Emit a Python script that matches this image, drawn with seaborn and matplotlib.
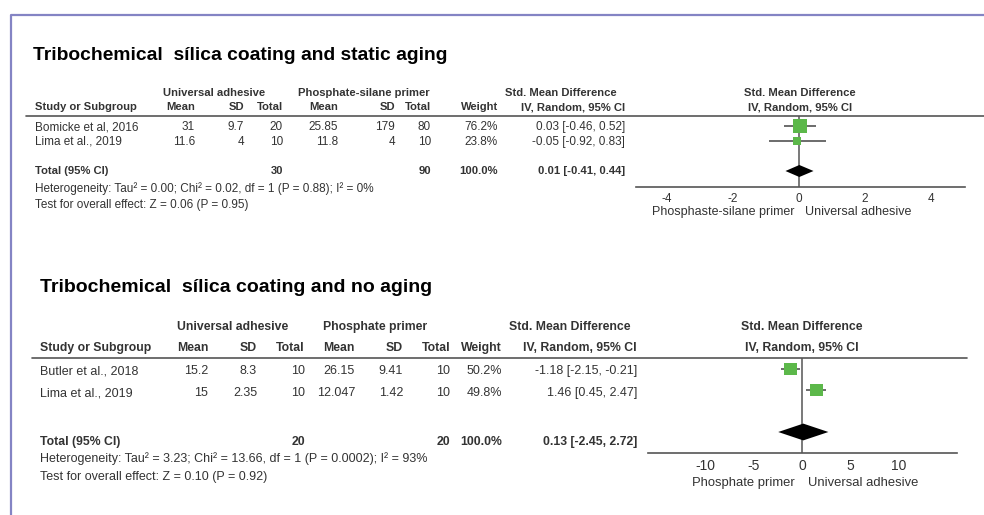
import matplotlib
matplotlib.use("Agg")
import matplotlib.pyplot as plt
import seaborn as sns
import pandas as pd

# ---- panel 1: static aging ----
p1_title = "Tribochemical  sílica coating and static aging"
p1_grp_a = "Universal adhesive"
p1_grp_b = "Phosphate-silane primer"
p1_studies = ["Bomicke et al, 2016", "Lima et al., 2019"]
p1_mean_a = ["31", "11.6"]
p1_sd_a = ["9.7", "4"]
p1_n_a = ["20", "10"]
p1_mean_b = ["25.85", "11.8"]
p1_sd_b = ["179", "4"]
p1_n_b = ["80", "10"]
p1_weight = [76.2, 23.8]
p1_smd = [0.03, -0.05]
p1_lo = [-0.46, -0.92]
p1_hi = [0.52, 0.83]
p1_total = ["30", "90"]
p1_tot_smd, p1_tot_lo, p1_tot_hi = 0.01, -0.41, 0.44
p1_het = "Heterogeneity: Tau² = 0.00; Chi² = 0.02, df = 1 (P = 0.88); I² = 0%"
p1_test = "Test for overall effect: Z = 0.06 (P = 0.95)"
p1_ticks = [-4, -2, 0, 2, 4]
p1_left_lab = "Phosphaste-silane primer"
p1_right_lab = "Universal adhesive"

# ---- panel 2: no aging ----
p2_title = "Tribochemical  sílica coating and no aging"
p2_grp_a = "Universal adhesive"
p2_grp_b = "Phosphate primer"
p2_studies = ["Butler et al., 2018", "Lima et al., 2019"]
p2_mean_a = ["15.2", "15"]
p2_sd_a = ["8.3", "2.35"]
p2_n_a = ["10", "10"]
p2_mean_b = ["26.15", "12.047"]
p2_sd_b = ["9.41", "1.42"]
p2_n_b = ["10", "10"]
p2_weight = [50.2, 49.8]
p2_smd = [-1.18, 1.46]
p2_lo = [-2.15, 0.45]
p2_hi = [-0.21, 2.47]
p2_total = ["20", "20"]
p2_tot_smd, p2_tot_lo, p2_tot_hi = 0.13, -2.45, 2.72
p2_het = "Heterogeneity: Tau² = 3.23; Chi² = 13.66, df = 1 (P = 0.0002); I² = 93%"
p2_test = "Test for overall effect: Z = 0.10 (P = 0.92)"
p2_ticks = [-10, -5, 0, 5, 10]
p2_left_lab = "Phosphate primer"
p2_right_lab = "Universal adhesive"

sns.set_theme(style="white")
plt.rcParams["font.family"] = ["Liberation Sans", "DejaVu Sans"]
plt.rcParams["axes.unicode_minus"] = False

W, H = 984, 515
fig = plt.figure(figsize=(W / 100, H / 100), dpi=100)
bg = fig.add_axes([0, 0, 1, 1])
bg.set_xlim(0, W)
bg.set_ylim(H, 0)
bg.axis("off")

# frame
bg.plot([11, 11, W], [H, 15, 15], color="#8484c4", lw=1.6)

GREEN = "#5cb84a"
TXT = "#333333"


def fmt_ci(e, l, h):
    return f"{e:.2f} [{l:.2f}, {h:.2f}]"


def panel(cfg):
    kw = dict(fontsize=cfg["fs"], color=TXT, va="center")
    bold = dict(kw, fontsize=cfg["bfs"], fontweight="bold")
    bg.text(cfg["x0"], cfg["ty"], cfg["title"], fontsize=cfg["tfs"], fontweight="bold",
            color="black", va="center")
    gy, hy = cfg["gy"], cfg["hy"]
    c = cfg["cols"]
    bg.text(c["grp_a"], gy, cfg["grp_a"], ha="left", **bold)
    bg.text(c["grp_b"], gy, cfg["grp_b"], ha="left", **bold)
    bg.text(c["smd_c"], gy, "Std. Mean Difference", ha="center", **bold)
    bg.text(c["plot_c"], gy, "Std. Mean Difference", ha="center", **bold)
    heads = [("Study or Subgroup", c["study"], "left"), ("Mean", c["ma"], "right"),
             ("SD", c["sa"], "right"), ("Total", c["na"], "right"),
             ("Mean", c["mb"], "right"), ("SD", c["sb"], "right"),
             ("Total", c["nb"], "right"), ("Weight", c["w"], "right"),
             ("IV, Random, 95% CI", c["ci"], "right"),
             ("IV, Random, 95% CI", c["plot_c"], "center")]
    for t, x, ha in heads:
        bg.text(x, hy, t, ha=ha, **bold)
    bg.plot([cfg["line_x0"], cfg["line_x1"]], [cfg["line_y"]] * 2, color="#555555", lw=1.2)

    rows = cfg["row_y"]
    for i, s in enumerate(cfg["studies"]):
        y = rows[i]
        bg.text(c["study"], y, s, ha="left", **kw)
        for key, arr in [("ma", cfg["mean_a"]), ("sa", cfg["sd_a"]), ("na", cfg["n_a"]),
                         ("mb", cfg["mean_b"]), ("sb", cfg["sd_b"]), ("nb", cfg["n_b"])]:
            bg.text(c[key], y, arr[i], ha="right", **kw)
        bg.text(c["w"], y, f"{cfg['weight'][i]:.1f}%", ha="right", **kw)
        bg.text(c["ci"], y, fmt_ci(cfg["smd"][i], cfg["lo"][i], cfg["hi"][i]), ha="right", **kw)
    ty = cfg["tot_y"]
    bg.text(c["study"], ty, "Total (95% CI)", ha="left", **bold)
    bg.text(c["na"], ty, cfg["total"][0], ha="right", **bold)
    bg.text(c["nb"], ty, cfg["total"][1], ha="right", **bold)
    bg.text(c["w"], ty, f"{sum(cfg['weight']):.1f}%", ha="right", **bold)
    bg.text(c["ci"], ty, fmt_ci(cfg["tot"][0], cfg["tot"][1], cfg["tot"][2]), ha="right", **bold)
    bg.text(c["study"], cfg["het_y"], cfg["het"], ha="left", **kw)
    bg.text(c["study"], cfg["test_y"], cfg["test"], ha="left", **kw)

    # forest axes, placed in pixel layout; marks drawn in data units
    px0, px1, py0, py1 = cfg["ax_box"]
    ax = fig.add_axes([px0 / W, 1 - py1 / H, (px1 - px0) / W, (py1 - py0) / H])
    ax.patch.set_alpha(0)
    n = len(cfg["studies"])
    df = pd.DataFrame({"smd": cfg["smd"], "row": list(range(n)), "weight": cfg["weight"]})
    ax.hlines(df["row"], cfg["lo"], cfg["hi"], color="#444444", lw=1.1, zorder=2)
    sns.scatterplot(data=df, x="smd", y="row", size="weight", sizes=(0, cfg["smax"]),
                    size_norm=(0, 100), marker="s", color=GREEN, linewidth=0,
                    legend=False, ax=ax, zorder=3)
    tr = n + 1
    e, l, h = cfg["tot"]
    ax.fill([l, e, h, e], [tr, tr - 0.4, tr, tr + 0.4], color="black", lw=0, zorder=3)
    ax.axvline(0, color="#555555", lw=1.1, zorder=1)
    ax.set_xlim(cfg["xlim"])
    ax.set_ylim(cfg["ylim"])
    ax.set_yticks([])
    ax.set_xticks(cfg["ticks"])
    ax.set_xlabel("")
    ax.set_ylabel("")
    for sp in ["top", "left", "right"]:
        ax.spines[sp].set_visible(False)
    ax.spines["bottom"].set_color("#555555")
    ax.spines["bottom"].set_linewidth(1.2)
    ax.tick_params(axis="x", direction="inout", length=cfg["tlen"], width=1.1,
                   color="#555555", pad=0, labelsize=cfg["tick_fs"], labelcolor=TXT)
    lab_kw = dict(kw, fontsize=cfg["lab_fs"])
    bg.text(cfg["lab_l"], cfg["lab_y"], cfg["left_lab"], ha="right", **lab_kw)
    bg.text(cfg["lab_r"], cfg["lab_y"], cfg["right_lab"], ha="left", **lab_kw)


panel(dict(
    fs=8.5, bfs=8.1, tfs=13.9, x0=33, ty=55,
    title=p1_title, grp_a=p1_grp_a, grp_b=p1_grp_b, gy=93, hy=107,
    cols=dict(study=35, grp_a=163, grp_b=298, ma=195, sa=244, na=283, mb=338, sb=395,
              nb=431, w=498, ci=625, smd_c=561, plot_c=800),
    line_x0=26, line_x1=W, line_y=116,
    studies=p1_studies, mean_a=p1_mean_a, sd_a=p1_sd_a, n_a=p1_n_a,
    mean_b=p1_mean_b, sd_b=p1_sd_b, n_b=p1_n_b, weight=p1_weight,
    smd=p1_smd, lo=p1_lo, hi=p1_hi, total=p1_total,
    tot=(p1_tot_smd, p1_tot_lo, p1_tot_hi),
    row_y=[127, 142], tot_y=171, het_y=189, test_y=205, het=p1_het, test=p1_test,
    ax_box=(636, 965, 116, 187), xlim=((636 - 799) / 33, (965 - 799) / 33),
    ylim=((187 - 126) / 15, (116 - 126) / 15), ticks=p1_ticks, smax=130, tlen=8,
    tick_fs=8.5, lab_fs=9, left_lab=p1_left_lab, right_lab=p1_right_lab,
    lab_l=795, lab_r=805, lab_y=212,
))

panel(dict(
    fs=9.0, bfs=8.8, tfs=14, x0=40, ty=288,
    title=p2_title, grp_a=p2_grp_a, grp_b=p2_grp_b, gy=327, hy=348,
    cols=dict(study=40, grp_a=177, grp_b=323, ma=208, sa=257, na=305, mb=355, sb=403,
              nb=450, w=502, ci=637, smd_c=570, plot_c=802),
    line_x0=32, line_x1=967, line_y=358,
    studies=p2_studies, mean_a=p2_mean_a, sd_a=p2_sd_a, n_a=p2_n_a,
    mean_b=p2_mean_b, sd_b=p2_sd_b, n_b=p2_n_b, weight=p2_weight,
    smd=p2_smd, lo=p2_lo, hi=p2_hi, total=p2_total,
    tot=(p2_tot_smd, p2_tot_lo, p2_tot_hi),
    row_y=[371, 393], tot_y=442, het_y=459, test_y=477, het=p2_het, test=p2_test,
    ax_box=(648, 957, 358, 453), xlim=((648 - 802) / 9.7, (957 - 802) / 9.7),
    ylim=((453 - 369) / 21, (358 - 369) / 21), ticks=p2_ticks, smax=170, tlen=9,
    tick_fs=10, lab_fs=9.4, left_lab=p2_left_lab, right_lab=p2_right_lab,
    lab_l=795, lab_r=808, lab_y=483,
))

fig.savefig("out.png", dpi=100)
